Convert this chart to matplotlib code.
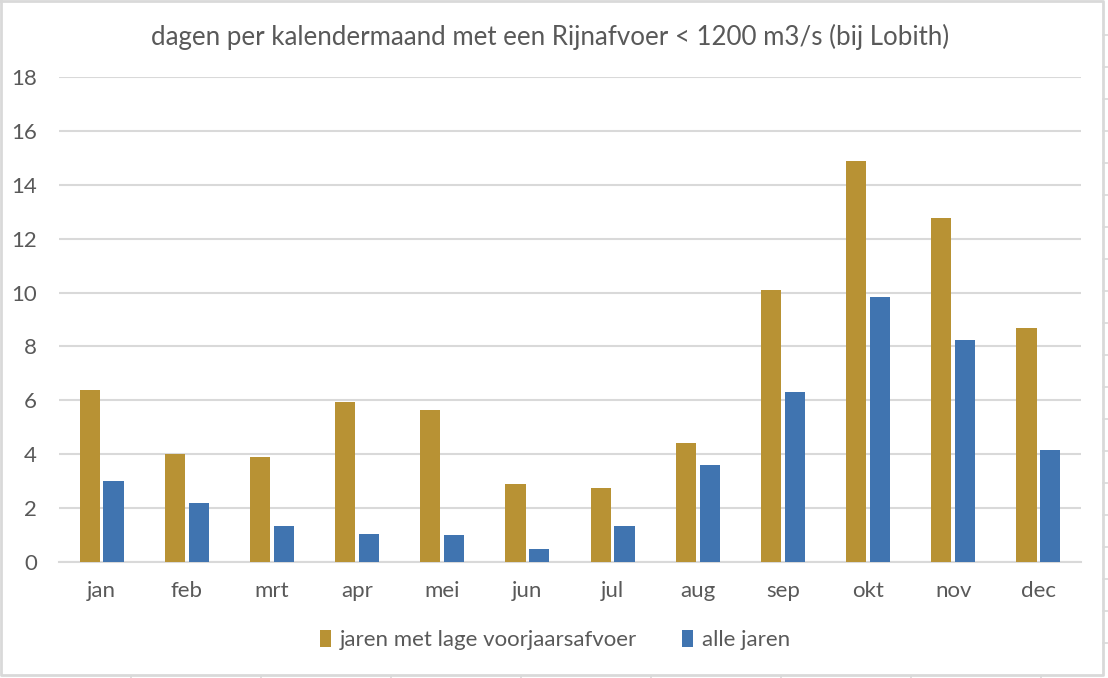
import matplotlib
matplotlib.use('Agg')
import matplotlib.pyplot as plt
import numpy as np
from matplotlib.lines import Line2D

months = ['jan', 'feb', 'mrt', 'apr', 'mei', 'jun', 'jul', 'aug', 'sep', 'okt', 'nov', 'dec']
lage_voorjaar = [6.4, 4.0, 3.9, 5.95, 5.65, 2.9, 2.75, 4.4, 10.1, 14.9, 12.75, 8.7]
alle_jaren = [3.0, 2.2, 1.35, 1.05, 1.0, 0.5, 1.35, 3.6, 6.3, 9.85, 8.25, 4.15]

W, H = 1108, 678
GOLD = '#B89234'
BLUE = '#4074B0'
TXT = '#595959'
GRID = '#D9D9D9'
FONT = ['Lato', 'DejaVu Sans']

plt.rcParams['font.family'] = FONT

fig = plt.figure(figsize=(W / 100, H / 100), dpi=100)
fig.patch.set_facecolor('white')

# plot area in pixels: x 59..1081, y 77..562
ax = fig.add_axes([59 / W, 1 - 562 / H, (1081 - 59) / W, (562 - 77) / H])

x = np.arange(len(months))
bw = 0.235
off = 0.14
ax.bar(x - off, lage_voorjaar, width=bw, color=GOLD, label='jaren met lage voorjaarsafvoer', zorder=3)
ax.bar(x + off, alle_jaren, width=bw, color=BLUE, label='alle jaren', zorder=3)

ax.set_xlim(-0.5, len(months) - 0.5)
ax.set_ylim(0, 18)
ax.set_yticks(np.arange(0, 19, 2))
ax.set_xticks(x)
ax.set_xticklabels(months)
ax.yaxis.grid(True, color=GRID, linewidth=1.5, zorder=0)
ax.set_axisbelow(True)
for s in ['top', 'right', 'left']:
    ax.spines[s].set_visible(False)
ax.spines['bottom'].set_color(GRID)
ax.spines['bottom'].set_linewidth(1.5)
ax.tick_params(axis='both', length=0, labelsize=16, colors=TXT)
ax.tick_params(axis='y', pad=16)
ax.tick_params(axis='x', pad=14)

fig.text(550 / W, 1 - 37 / H, 'dagen per kalendermaand met een Rijnafvoer < 1200 m3/s (bij Lobith)',
         ha='center', va='center', fontsize=18.6, color=TXT)

leg = fig.legend(loc='center', bbox_to_anchor=(555 / W, 1 - 640 / H), ncol=2, frameon=False,
                 fontsize=16, handlelength=0.5, handleheight=0.8, handletextpad=0.4,
                 columnspacing=2.0, labelcolor=TXT)

# chart frame
def px_line(xs, ys, **kw):
    fig.add_artist(Line2D([v / W for v in xs], [1 - v / H for v in ys],
                          transform=fig.transFigure, color=GRID, **kw))

px_line([1, 1103, 1103, 1, 1], [1, 1, 675, 675, 1], linewidth=2)

# spreadsheet cell lines peeking out round the chart
for cx in np.arange(131, 1100, 130):
    px_line([cx, cx], [676, 678], linewidth=1.2)
for ry in np.arange(35, 675, 32):
    px_line([1103, 1108], [ry, ry], linewidth=1.2)

fig.savefig('out.png', dpi=100, facecolor='white')
